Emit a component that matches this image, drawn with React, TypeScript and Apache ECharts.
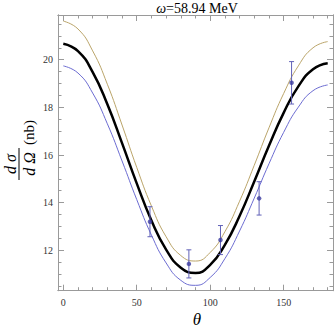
import React, { useEffect, useRef } from "react";
import * as echarts from "echarts";

const thetaGrid = [0, 10, 20, 30, 40, 50, 60, 70, 80, 90, 100, 110, 120, 130, 140, 150, 160, 170, 180];
const blackCurve = [20.67, 20.36, 19.48, 18.13, 16.5, 14.81, 13.25, 12.03, 11.27, 11.05, 11.39, 12.23, 13.44, 14.89, 16.39, 17.77, 18.88, 19.6, 19.85];
const goldCurve = [21.62, 21.29, 20.37, 18.97, 17.26, 15.48, 13.86, 12.57, 11.78, 11.55, 11.91, 12.78, 14.06, 15.57, 17.14, 18.58, 19.74, 20.5, 20.76];
const blueCurve = [19.74, 19.44, 18.6, 17.31, 15.75, 14.13, 12.64, 11.47, 10.74, 10.53, 10.86, 11.65, 12.81, 14.19, 15.63, 16.95, 18.01, 18.7, 18.94];

const pointTheta = [59, 85.5, 107, 133.3, 155.4];
const pointValue = [13.2, 11.43, 12.43, 14.18, 19.03];
const pointError = [0.63, 0.59, 0.61, 0.7, 0.89];

const xMajorTicks = [0, 50, 100, 150];
const xMinorTicks = [0, 10, 20, 30, 40, 50, 60, 70, 80, 90, 100, 110, 120, 130, 140, 150, 160, 170, 180];
const yMajorTicks = [12, 14, 16, 18, 20];
const yMinorTicks = [10.5, 11, 11.5, 12, 12.5, 13, 13.5, 14, 14.5, 15, 15.5, 16, 16.5, 17, 17.5, 18, 18.5, 19, 19.5, 20, 20.5, 21, 21.5];

const xName = "θ";

const SERIF = "'Liberation Serif', 'DejaVu Serif', serif";
const FRAME = "#9a9a9a";
const X_MIN = -3.6;
const X_MAX = 183.6;
const Y_MIN = 10.305;
const Y_MAX = 21.876;

function xAxisDef(position: "bottom" | "top", ticks: number[], len: number, labels: boolean) {
  return {
    type: "value",
    min: X_MIN,
    max: X_MAX,
    position,
    axisLine: { show: true, onZero: false, lineStyle: { color: FRAME, width: 1 } },
    axisTick: { show: true, inside: true, length: len, customValues: ticks, lineStyle: { color: FRAME } },
    axisLabel: labels
      ? { show: true, customValues: ticks, fontFamily: SERIF, fontSize: 10, color: "#333", margin: 7 }
      : { show: false },
    splitLine: { show: false },
  };
}

function yAxisDef(position: "left" | "right", ticks: number[], len: number, labels: boolean) {
  return {
    type: "value",
    min: Y_MIN,
    max: Y_MAX,
    position,
    axisLine: { show: true, onZero: false, lineStyle: { color: FRAME, width: 1 } },
    axisTick: { show: true, inside: true, length: len, customValues: ticks, lineStyle: { color: FRAME } },
    axisLabel: labels
      ? { show: true, customValues: ticks, fontFamily: SERIF, fontSize: 10, color: "#333", margin: 5 }
      : { show: false },
    splitLine: { show: false },
  };
}

export default function App() {
  const ref = useRef<HTMLDivElement>(null);

  useEffect(() => {
    if (!ref.current) return;
    const chart = echarts.init(ref.current, undefined, { renderer: "svg" });

    const toLine = (vals: number[]) => thetaGrid.map((t, i) => [t, vals[i]]);
    const points = pointTheta.map((t, i) => [t, pointValue[i], pointError[i]]);

    chart.setOption({
      animation: false,
      backgroundColor: "#ffffff",
      grid: { left: 58, right: 1, top: 15, bottom: 36.3, containLabel: false },
      xAxis: [
        xAxisDef("bottom", xMajorTicks, 6, true),
        xAxisDef("bottom", xMinorTicks, 3.5, false),
        xAxisDef("top", xMajorTicks, 6, false),
        xAxisDef("top", xMinorTicks, 3.5, false),
      ],
      yAxis: [
        yAxisDef("left", yMajorTicks, 6, true),
        yAxisDef("left", yMinorTicks, 3.5, false),
        yAxisDef("right", yMajorTicks, 6, false),
        yAxisDef("right", yMinorTicks, 3.5, false),
      ],
      series: [
        {
          type: "line",
          data: toLine(goldCurve),
          smooth: true,
          showSymbol: false,
          lineStyle: { color: "#bba56a", width: 1 },
          z: 2,
        },
        {
          type: "line",
          data: toLine(blueCurve),
          smooth: true,
          showSymbol: false,
          lineStyle: { color: "#6c6cd2", width: 1 },
          z: 2,
        },
        {
          type: "line",
          data: toLine(blackCurve),
          smooth: true,
          showSymbol: false,
          lineStyle: { color: "#000000", width: 2.5 },
          z: 3,
        },
        {
          type: "custom",
          data: points,
          encode: { x: 0, y: 1 },
          z: 4,
          renderItem: (params: any, api: any) => {
            const x = api.value(0);
            const y = api.value(1);
            const e = api.value(2);
            const top = api.coord([x, y + e]);
            const bot = api.coord([x, y - e]);
            const cap = 2.5;
            const style = { stroke: "#6262b8", lineWidth: 1 };
            return {
              type: "group",
              children: [
                { type: "line", shape: { x1: top[0], y1: top[1], x2: bot[0], y2: bot[1] }, style },
                { type: "line", shape: { x1: top[0] - cap, y1: top[1], x2: top[0] + cap, y2: top[1] }, style },
                { type: "line", shape: { x1: bot[0] - cap, y1: bot[1], x2: bot[0] + cap, y2: bot[1] }, style },
              ],
            };
          },
        },
        {
          type: "scatter",
          data: points.map((p) => [p[0], p[1]]),
          symbol: "circle",
          symbolSize: 4.5,
          itemStyle: { color: "#3c3ca0" },
          z: 5,
        },
      ],
      graphic: [
        {
          type: "text",
          x: 197,
          y: 8,
          style: {
            text: "{i|ω}=58.94 MeV",
            rich: { i: { fontStyle: "italic", fontFamily: SERIF, fontSize: 14, fill: "#000" } },
            fontFamily: SERIF,
            fontSize: 14,
            fill: "#000",
            align: "center",
            textAlign: "center",
            verticalAlign: "middle",
            textVerticalAlign: "middle",
          },
        },
        {
          type: "text",
          x: 197,
          y: 319,
          style: {
            text: xName,
            fontFamily: SERIF,
            fontStyle: "italic",
            fontSize: 17,
            fill: "#000",
            align: "center",
            textAlign: "center",
            verticalAlign: "middle",
            textVerticalAlign: "middle",
          },
        },
        {
          type: "group",
          x: 19,
          y: 180,
          rotation: Math.PI / 2,
          children: [
            {
              type: "text",
              x: 16,
              y: -1,
              style: {
                text: "d σ",
                fontFamily: SERIF,
                fontStyle: "italic",
                fontSize: 16,
                fill: "#000",
                align: "center",
                textAlign: "center",
                verticalAlign: "bottom",
                textVerticalAlign: "bottom",
              },
            },
            {
              type: "line",
              shape: { x1: 0, y1: 0, x2: 32, y2: 0 },
              style: { stroke: "#000", lineWidth: 1 },
            },
            {
              type: "text",
              x: 16,
              y: 2,
              style: {
                text: "d Ω",
                fontFamily: SERIF,
                fontStyle: "italic",
                fontSize: 16,
                fill: "#000",
                align: "center",
                textAlign: "center",
                verticalAlign: "top",
                textVerticalAlign: "top",
              },
            },
            {
              type: "text",
              x: 35,
              y: 10,
              style: {
                text: "(nb)",
                fontFamily: SERIF,
                fontSize: 15,
                fill: "#000",
                align: "left",
                textAlign: "left",
                verticalAlign: "middle",
                textVerticalAlign: "middle",
              },
            },
          ],
        },
      ],
    });

    return () => chart.dispose();
  }, []);

  return (
    <div
      ref={ref}
      style={{ position: "absolute", left: 0, top: 0, width: 334, height: 327, background: "#fff" }}
    />
  );
}
